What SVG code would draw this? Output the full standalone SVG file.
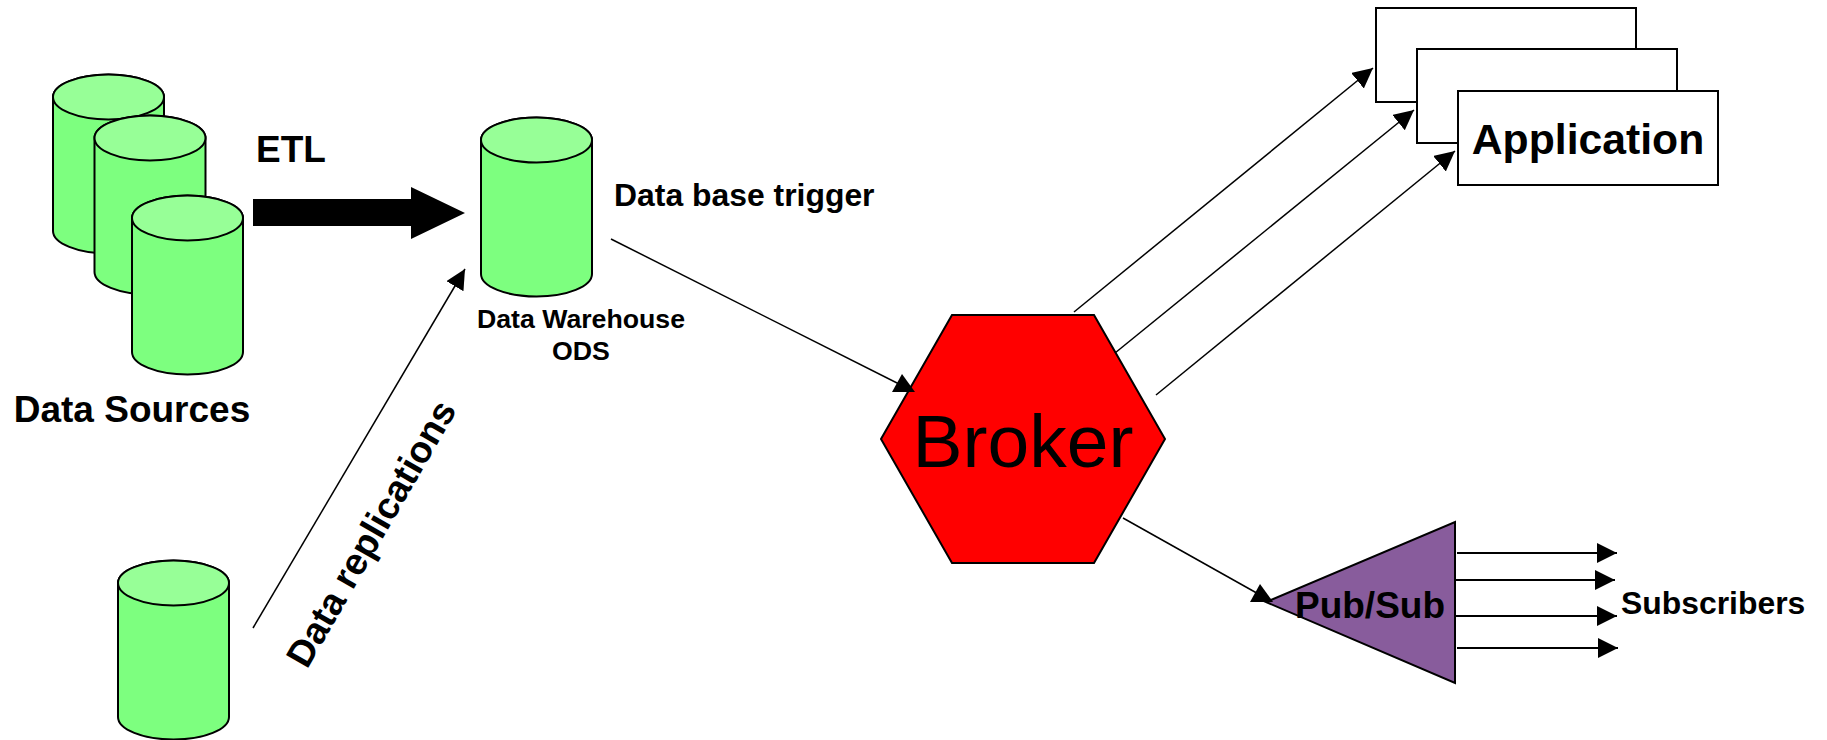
<svg xmlns="http://www.w3.org/2000/svg" width="1827" height="740" viewBox="0 0 1827 740">
<style>
text{font-family:"Liberation Sans",Arial,sans-serif;font-weight:bold;fill:#000}
.b{fill:#7dff7f;stroke:#000;stroke-width:2}
.t{fill:#97ff97;stroke:#000;stroke-width:2}
.r{fill:#fff;stroke:#000;stroke-width:2}
.c line{stroke:#000;stroke-width:1.5;fill:none}
.c line.s{stroke-width:2}
</style>
<defs>
<marker id="a" markerUnits="userSpaceOnUse" markerWidth="24" markerHeight="22" refX="20" refY="10" orient="auto"><path d="M0 0L20 10L0 20Z" fill="#000"/></marker>
<path id="cyl" d="M0 0V134A55.500 22.500 0 0 0 111 134V0A55.500 22.500 0 0 0 0 0Z"/>
</defs>
<rect width="1827" height="740" fill="#fff"/>
<g id="source1"><use href="#cyl" x="53" y="97" class="b"/><ellipse cx="108.500" cy="97" rx="55.500" ry="22.500" class="t"/></g>
<g id="source2"><use href="#cyl" x="94.500" y="138" class="b"/><ellipse cx="150" cy="138" rx="55.500" ry="22.500" class="t"/></g>
<g id="source3"><use href="#cyl" x="132" y="218" class="b"/><ellipse cx="187.500" cy="218" rx="55.500" ry="22.500" class="t"/></g>
<text id="data-sources" x="132" y="422" font-size="37" text-anchor="middle">Data Sources</text>
<g id="replica"><use href="#cyl" x="118" y="583" class="b"/><ellipse cx="173.500" cy="583" rx="55.500" ry="22.500" class="t"/></g>
<g id="warehouse"><use href="#cyl" x="481" y="140" class="b"/><ellipse cx="536.500" cy="140" rx="55.500" ry="22.500" class="t"/><text x="581" y="328" font-size="26.700" text-anchor="middle">Data Warehouse</text><text x="581" y="360" font-size="26.700" text-anchor="middle">ODS</text></g>
<g id="app1"><rect x="1376" y="8" width="260" height="94" class="r"/></g>
<g id="app2"><rect x="1417" y="49" width="260" height="94" class="r"/></g>
<g id="app3"><rect x="1458" y="91" width="260" height="94" class="r"/><text x="1588" y="154" font-size="42.700" text-anchor="middle">Application</text></g>
<g id="broker"><polygon points="881,439 952,315 1094,315 1165,439 1094,563 952,563" fill="#f00" stroke="#000" stroke-width="2"/><text x="1023" y="467" font-size="75" style="font-weight:normal" text-anchor="middle">Broker</text></g>
<g id="pubsub"><polygon points="1266,602 1455,522 1455,683" fill="#885c9c" stroke="#000" stroke-width="2"/><text x="1370" y="618" font-size="37" text-anchor="middle">Pub/Sub</text></g>
<g id="connectors" class="c">
<polygon points="253,199 411,199 411,187 465,213 411,239 411,226 253,226" fill="#000"/>
<line x1="253" y1="628" x2="465" y2="269" marker-end="url(#a)"/>
<line x1="611" y1="239" x2="905" y2="387"/>
<polygon points="902,374 892,392 915,392" fill="#000"/>
<line x1="1074" y1="312" x2="1373" y2="68" marker-end="url(#a)"/>
<line x1="1115" y1="353" x2="1414" y2="110" marker-end="url(#a)"/>
<line x1="1156" y1="395" x2="1455" y2="151" marker-end="url(#a)"/>
<line x1="1123" y1="518" x2="1262" y2="596"/>
<polygon points="1260,584 1250,602 1273,602" fill="#000"/>
<line class="s" x1="1457" y1="553" x2="1617" y2="553" marker-end="url(#a)"/>
<line class="s" x1="1455" y1="580" x2="1615" y2="580" marker-end="url(#a)"/>
<line class="s" x1="1455" y1="616" x2="1617" y2="616" marker-end="url(#a)"/>
<line class="s" x1="1457" y1="648" x2="1618" y2="648" marker-end="url(#a)"/>
</g>
<text x="291" y="162" font-size="37" text-anchor="middle">ETL</text>
<text x="614" y="206" font-size="31.900">Data base trigger</text>
<text x="1621" y="614" font-size="31.900">Subscribers</text>
<text font-size="37.300" transform="translate(307 670) rotate(-60)">Data replications</text>
</svg>
